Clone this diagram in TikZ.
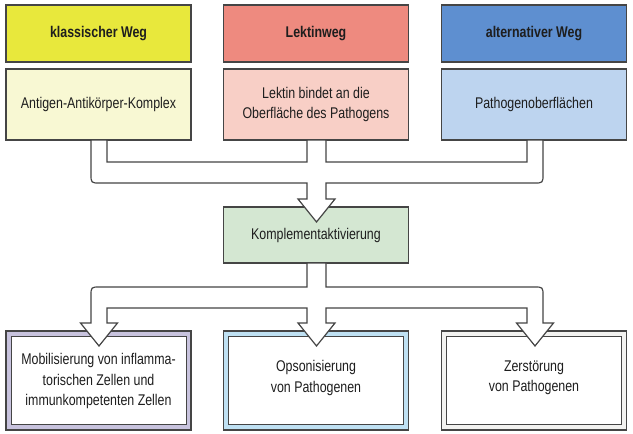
\documentclass[tikz,border=0pt]{standalone}
\usepackage{fontspec}
\setmainfont{Liberation Sans}[FakeStretch=0.80]
\definecolor{hYel}{HTML}{E8E83C}
\definecolor{sYel}{HTML}{F8F8D3}
\definecolor{hRed}{HTML}{EE8A7F}
\definecolor{sRed}{HTML}{F8CFC6}
\definecolor{hBlu}{HTML}{5E8FD0}
\definecolor{sBlu}{HTML}{BDD4EF}
\definecolor{kGrn}{HTML}{D4E7D2}
\definecolor{fLav}{HTML}{C8C3DE}
\definecolor{fBlu}{HTML}{BFE1F3}
\definecolor{fGry}{HTML}{F2F2F0}
\definecolor{lineC}{HTML}{454545}
\definecolor{txtC}{HTML}{1E1E1E}
\begin{document}
\begin{tikzpicture}[x=1pt,y=-1pt,
  box/.style={draw=lineC,line width=1.2pt,minimum width=185pt,inner sep=0pt,
    text=txtC,align=center,font=\fontsize{15.5}{20.5}\selectfont},
  head/.style={box,minimum height=57pt,font=\fontsize{15.5}{20.5}\selectfont\bfseries},
  sub/.style={box,minimum height=71pt},
  frame/.style={box,minimum height=99pt},
  inner/.style={draw=lineC,line width=1pt,fill=white,minimum width=175pt,minimum height=88pt,inner sep=0pt},
  fatarrow/.style={draw=lineC,line width=1.2pt,fill=white,line join=miter},
  btxt/.style={text=txtC,align=center,font=\fontsize{15.5}{20.5}\selectfont}]
\useasboundingbox[fill=white] (0,0) rectangle (633,434);

\node[head,fill=hYel] (h1) at (98.5,33.5) {klassischer Weg};
\node[head,fill=hRed] (h2) at (316,33.5) {Lektinweg};
\node[head,fill=hBlu] (h3) at (534,33.5) {alternativer Weg};

\node[sub,fill=sYel] (s1) at (98.5,104.5) {Antigen-Antikörper-Komplex};
\node[sub,fill=sRed] (s2) at (316,104.5) {Lektin bindet an die\\Oberfläche des Pathogens};
\node[sub,fill=sBlu] (s3) at (534,104.5) {Pathogenoberflächen};

\node[box,fill=kGrn,minimum height=56pt] (k) at (316,235) {Komplementaktivierung};

\node[frame,fill=fLav] (b1) at (98.5,380.5) {};
\node[inner] (i1) at (98.5,380.5) {};
\node[frame,fill=fBlu] (b2) at (316,380.5) {};
\node[inner] (i2) at (316,380.5) {};
\node[frame,fill=fGry] (b3) at (534,380.5) {};
\node[inner] (i3) at (534,380.5) {};
\draw[lineC,line width=1.6pt] (b2.south west) -- (b2.south east);

% top fat arrow
\draw[fatarrow] (107,140) -- (107,162) -- (307,162) -- (307,140) -- (326,140)
  -- (326,162) -- (527,162) -- (527,140) -- (543,140) -- (543,174)
  .. controls (543,183) .. (534,183) -- (326,183) -- (326,199) -- (335,199)
  -- (316.5,222) -- (298,199) -- (307,199) -- (307,183) -- (100,183)
  .. controls (91,183) .. (91,174) -- (91,140) -- cycle;

% bottom fat arrow
\draw[fatarrow] (307,263) -- (307,287) -- (100,287) .. controls (91,287) .. (91,296)
  -- (91,323) -- (80.5,323) -- (99,346) -- (117.5,323) -- (107,323) -- (107,308)
  -- (307,308) -- (307,323) -- (298,323) -- (316.5,346) -- (335,323) -- (326,323)
  -- (326,308) -- (527,308) -- (527,323) -- (516.5,323) -- (535,346) -- (553.5,323)
  -- (543,323) -- (543,296) .. controls (543,287) .. (534,287) -- (326,287)
  -- (326,263) -- cycle;

\node[btxt] (t1) at (98.5,381)
  {Mobilisierung von inflamma-\\torischen Zellen und\\immunkompetenten Zellen};
\node[btxt] (t2) at (316,378) {Opsonisierung\\von Pathogenen};
\node[btxt] (t3) at (534,378) {Zerstörung\\von Pathogenen};
\end{tikzpicture}
\end{document}
